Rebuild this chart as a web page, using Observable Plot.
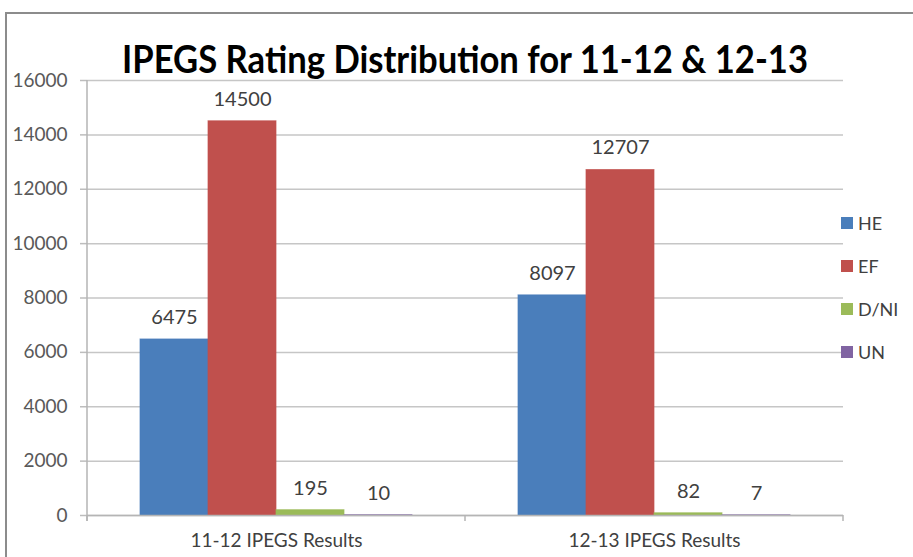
<!DOCTYPE html>
<html>
<head>
<meta charset="utf-8">
<script src="https://cdn.jsdelivr.net/npm/d3@7"></script>
<script src="https://cdn.jsdelivr.net/npm/@observablehq/plot@0.6"></script>
<style>
  html, body { margin: 0; padding: 0; background: #fff; }
  #wrap { position: relative; width: 913px; height: 557px; overflow: hidden; font-family: Lato, "Open Sans", sans-serif; }
  #frame { position: absolute; left: 5px; top: 12px; width: 1000px; height: 700px; border-left: 2px solid #8c8c8c; border-top: 2px solid #8c8c8c; }
  #chart { position: absolute; left: 0; top: 0; }
  #title { position: absolute; top: 39px; left: 0; white-space: nowrap; font-weight: bold; font-size: 38px; line-height: 38px; color: #000; transform-origin: 0 0; }
  #legend { position: absolute; left: 841px; top: 201px; }
  .item { display: flex; align-items: center; height: 43px; font-size: 18px; color: #404040; }
  .sw { width: 12px; height: 12px; margin-right: 5px; }
</style>
</head>
<body>
<div id="wrap">
  <div id="frame"></div>
  <div id="chart"></div>
  <div id="title">IPEGS Rating Distribution for 11-12 &amp; 12-13</div>
  <div id="legend"></div>
</div>
<script>
const groups = ["11-12 IPEGS Results", "12-13 IPEGS Results"];
const series = ["HE", "EF", "D/NI", "UN"];
const values1112 = [6475, 14500, 195, 10];
const values1213 = [8097, 12707, 82, 7];
const colors = ["#4a7ebb", "#c0504d", "#9bbb59", "#8064a2"];
const yTicks = [0, 2000, 4000, 6000, 8000, 10000, 12000, 14000, 16000];

const table = [values1112, values1213];
const data = [];
groups.forEach((g, i) => series.forEach((s, j) => data.push({group: g, series: s, value: table[i][j]})));

const chart = Plot.plot({
  width: 913,
  height: 557,
  marginLeft: 87,
  marginRight: 70,
  marginTop: 80,
  marginBottom: 42,
  style: {fontFamily: "Lato, 'Open Sans', sans-serif", fontSize: "19px", background: "transparent", overflow: "visible"},
  fx: {domain: groups, padding: 0, label: null},
  x: {domain: series, paddingInner: 0, paddingOuter: 0.74, axis: null, label: null},
  y: {domain: [0, 16000], axis: null, label: null},
  color: {domain: series, range: colors},
  marks: [
    Plot.gridY(yTicks, {stroke: "#c6c6c6", strokeOpacity: 1, strokeWidth: 1.5}),
    Plot.axisY(yTicks, {tickSize: 7, color: "#bdbdbd", strokeWidth: 1.5, tickFormat: () => "", label: null}),
    Plot.axisY(yTicks, {tickSize: 0, tickPadding: 20, color: "#595959", tickFormat: d => String(d), label: null, fontSize: 19}),
    Plot.barY(data, {fx: "group", x: "series", y: "value", fill: "series", stroke: "series", strokeWidth: 1, strokeOpacity: 0.7}),
    Plot.ruleY([0], {stroke: "#b5b5b5", strokeWidth: 1.5}),
    Plot.text(data, {fx: "group", x: "series", y: "value", text: d => String(d.value), dy: -22, fill: "#404040", fontSize: 20}),
    Plot.axisFx({anchor: "bottom", tickSize: 0, tickPadding: 18, color: "#404040", label: null, fontSize: 19})
  ]
});
document.getElementById("chart").appendChild(chart);

// axis line and category boundary ticks derived from the plot's own scales
const fxs = chart.scale("fx");
const ys = chart.scale("y");
const svg = d3.select(chart);
const bounds = groups.map(g => fxs.apply(g));
bounds.push(fxs.apply(groups[groups.length - 1]) + fxs.bandwidth);
const y0 = ys.apply(0), yTop = ys.apply(16000);
const g = svg.append("g").attr("stroke", "#b5b5b5").attr("stroke-width", 1.5);
g.append("line").attr("x1", bounds[0]).attr("x2", bounds[0]).attr("y1", yTop).attr("y2", y0 + 6);
bounds.forEach(b => g.append("line").attr("x1", b).attr("x2", b).attr("y1", y0).attr("y2", y0 + 6));

// legend
const legend = d3.select("#legend");
series.forEach((s, i) => {
  const it = legend.append("div").attr("class", "item");
  it.append("div").attr("class", "sw").style("background", colors[i]);
  it.append("span").text(s);
});

// fit title width
const title = document.getElementById("title");
const w = title.getBoundingClientRect().width;
const target = 686;
const sx = target / w;
title.style.transform = `translate(${122}px,0) scaleX(${sx})`;
</script>
</body>
</html>
